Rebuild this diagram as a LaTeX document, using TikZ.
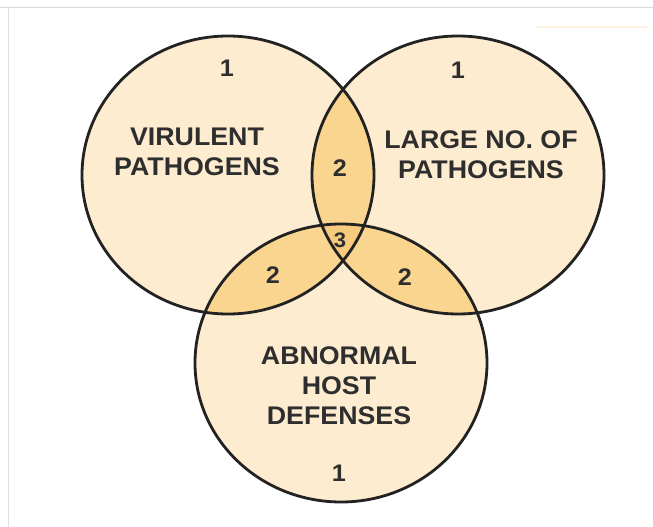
\documentclass[tikz,border=0pt]{standalone}
\usepackage{fontspec}
\newfontfamily\labfont[FakeStretch=1.05]{Liberation Sans}
\definecolor{lightfill}{HTML}{FDECD0}
\definecolor{midfill}{HTML}{FAD590}
\definecolor{darkfill}{HTML}{F6CB7E}
\definecolor{inkline}{HTML}{222222}
\definecolor{inktext}{HTML}{2E2E2E}
\tikzset{
  lab/.style={font=\labfont\bfseries\fontsize{25.5}{30}\selectfont, text=inktext, align=center, inner sep=0pt},
  num/.style={font=\labfont\bfseries\fontsize{24}{28}\selectfont, text=inktext, inner sep=0pt},
  ring/.style={draw=inkline, line width=2.8pt}
}
\begin{document}
\begin{tikzpicture}[x=1pt,y=-1pt]
\useasboundingbox (0,0) rectangle (653,527);
\fill[white] (0,0) rectangle (653,527);
\draw[black!15, line width=1pt] (0,8) -- (653,8);
\draw[black!12, line width=1pt] (8,8) -- (8,527);
\draw[orange!12, line width=1.5pt] (537,27) -- (647,27);
% base fills
\fill[lightfill] (228,175) ellipse [x radius=146pt, y radius=139pt];
\fill[lightfill] (458,175) ellipse [x radius=146pt, y radius=139pt];
\fill[lightfill] (341,363) ellipse [x radius=146pt, y radius=139pt];
% pairwise overlaps
\begin{scope}
  \clip (228,175) ellipse [x radius=146pt, y radius=139pt];
  \fill[midfill] (458,175) ellipse [x radius=146pt, y radius=139pt];
  \fill[midfill] (341,363) ellipse [x radius=146pt, y radius=139pt];
\end{scope}
\begin{scope}
  \clip (458,175) ellipse [x radius=146pt, y radius=139pt];
  \fill[midfill] (341,363) ellipse [x radius=146pt, y radius=139pt];
\end{scope}
% triple overlap
\begin{scope}
  \clip (228,175) ellipse [x radius=146pt, y radius=139pt];
  \clip (458,175) ellipse [x radius=146pt, y radius=139pt];
  \fill[darkfill] (341,363) ellipse [x radius=146pt, y radius=139pt];
\end{scope}
% outlines
\draw[ring] (228,175) ellipse [x radius=146pt, y radius=139pt];
\draw[ring] (458,175) ellipse [x radius=146pt, y radius=139pt];
\draw[ring] (341,363) ellipse [x radius=146pt, y radius=139pt];
% labels
\node[lab] (virulent) at (197,151.5) {VIRULENT\\PATHOGENS};
\node[lab] (large) at (481,154.5) {LARGE NO. OF\\PATHOGENS};
\node[lab] (host) at (339,386) {ABNORMAL\\HOST\\DEFENSES};
\node[num] (oneL) at (227,68) {1};
\node[num] (oneR) at (458,70) {1};
\node[num] (oneB) at (339,473) {1};
\node[num] (twoT) at (340,168) {2};
\node[num] (twoL) at (273,275) {2};
\node[num] (twoR) at (405,277) {2};
\node[num, font=\labfont\bfseries\fontsize{21}{24}\selectfont] (three) at (340,240) {3};
\end{tikzpicture}
\end{document}
